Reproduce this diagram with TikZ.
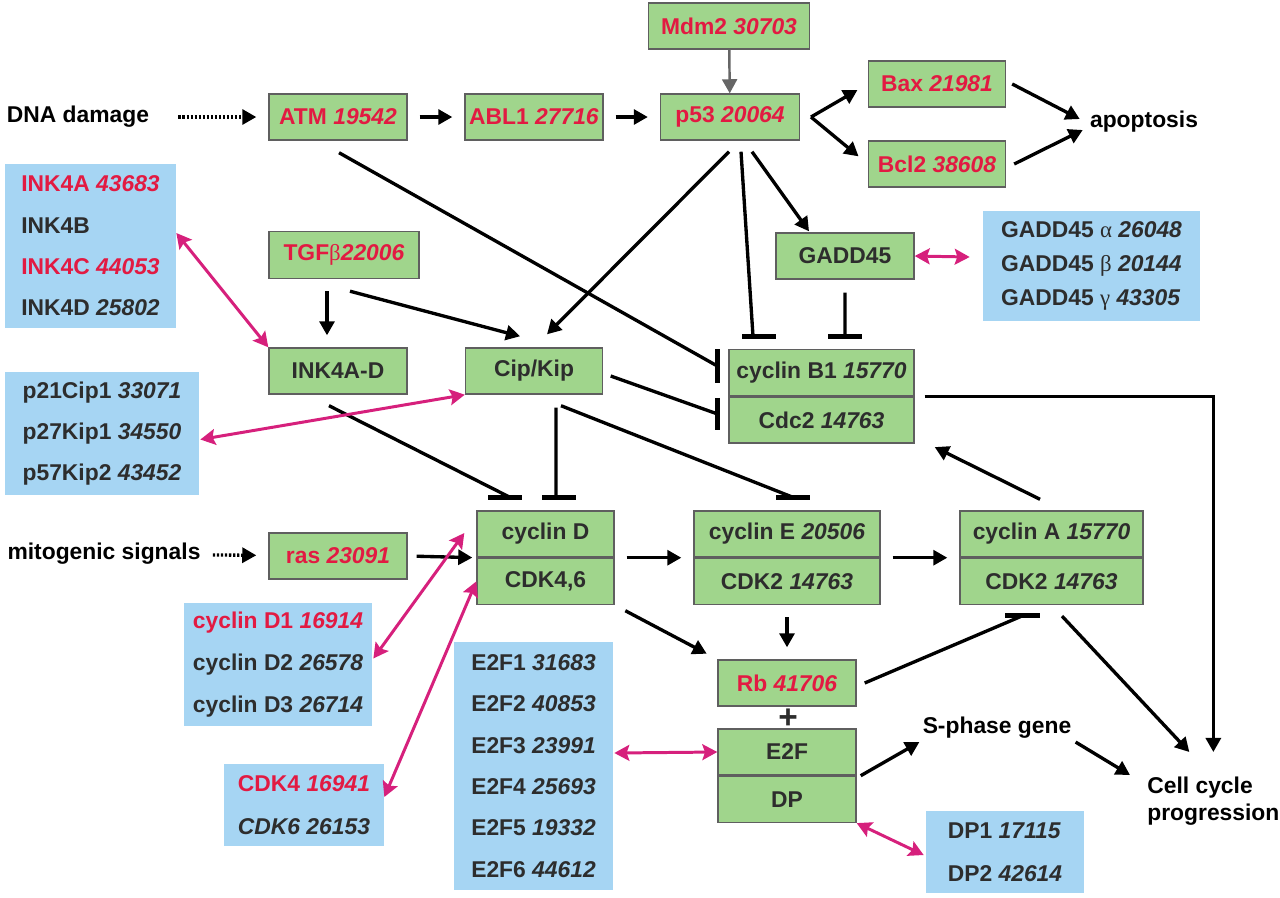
\documentclass[tikz,border=0pt]{standalone}
\usepackage{fontspec}
\setmainfont{Liberation Sans}
\newfontfamily\grk{Liberation Serif}
\usetikzlibrary{arrows.meta, positioning}

\definecolor{boxgreen}{RGB}{160,213,140}
\definecolor{boxblue}{RGB}{166,213,243}
\definecolor{boxline}{RGB}{95,95,95}
\definecolor{genered}{RGB}{226,26,66}
\definecolor{textdark}{RGB}{45,45,45}
\definecolor{linkpink}{RGB}{214,32,124}

\begin{document}
\begin{tikzpicture}[x=0.02cm, y=-0.02cm]
   \fontsize{13pt}{16pt}\selectfont\bfseries
    % --- STYLES ---
    \tikzstyle{gene} = [rectangle, draw=boxline, line width=0.8pt, fill=boxgreen, text=textdark, inner sep=0pt, minimum height=0.92cm, minimum width=2.76cm]
    \tikzstyle{keygene} = [gene, text=genered]
    \tikzstyle{family} = [rectangle, fill=boxblue, text=textdark, inner sep=0pt, align=left, font=\fontsize{13pt}{23.5pt}\selectfont]
    \tikzstyle{signal} = [text=black, inner sep=0pt]
    \tikzstyle{flow} = [-{Triangle[length=8pt, width=8.5pt]}, line width=1.9pt, shorten >=0.24cm, shorten <=0.24cm]
    \tikzstyle{exact} = [shorten >=0pt, shorten <=0pt]
    \tikzstyle{cue} = [flow, dash pattern=on 1.3pt off 1pt]
    \tikzstyle{block} = [line width=1.9pt]
    \tikzstyle{bar} = [line width=2.8pt]
    \tikzstyle{link} = [{Stealth[length=8.5pt, width=9pt, inset=1.5pt]}-{Stealth[length=8.5pt, width=9pt, inset=1.5pt]}, line width=1.7pt, color=linkpink]

    \useasboundingbox (0, 0) rectangle (1280, 897);

    % --- NODES ---
    \node (mdm2)   [keygene, minimum width=3.22cm] at (729, 26) {Mdm2 \textit{30703}};
    \node (atm)    [keygene] at (338, 117) {ATM \textit{19542}};
    \node (abl)    [keygene] at (534, 117) {ABL1 \textit{27716}};
    \node (p53)    [keygene, minimum width=2.78cm] at (730, 117) {p53 \textit{20064}};
    \node (bax)    [keygene, minimum width=2.74cm] at (937, 84) {Bax \textit{21981}};
    \node (bcl)    [keygene, minimum width=2.74cm] at (937, 164) {Bcl2 \textit{38608}};
    \node (tgf)    [keygene, minimum width=3cm, minimum height=0.94cm] at (344, 255) {TGF{\grk\mdseries β}\textit{22006}};
    \node (gadd)   [gene] at (845, 256) {GADD45};
    \node (inkad)  [gene] at (338, 371) {INK4A-D};
    \node (cipkip) [gene, minimum width=2.74cm] at (534, 371) {Cip/Kip};
    \node (ras)    [keygene] at (338, 556) {ras \textit{23091}};
    \node (rb)     [keygene] at (787, 683) {Rb \textit{41706}};

    % complexes: upper half placed, lower half stacked under it
    \node (cycb1)  [gene, minimum width=3.7cm] at (821.5, 372.5) {cyclin B1 \textit{15770}};
    \node (cdc2)   [gene, minimum width=3.7cm, below=0pt of cycb1] {Cdc2 \textit{14763}};
    \node (cycd)   [gene, minimum width=2.74cm] at (545.5, 534) {cyclin D};
    \node (cdk46)  [gene, minimum width=2.74cm, below=0pt of cycd] {CDK4,6};
    \node (cyce)   [gene, minimum width=3.72cm] at (787, 534) {cyclin E \textit{20506}};
    \node (cdk2e)  [gene, minimum width=3.72cm, below=0pt of cyce] {CDK2 \textit{14763}};
    \node (cyca)   [gene, minimum width=3.66cm] at (1051.5, 534) {cyclin A \textit{15770}};
    \node (cdk2a)  [gene, minimum width=3.66cm, below=0pt of cyca] {CDK2 \textit{14763}};
    \node (e2f)    [gene] at (787, 752) {E2F};
    \node (dp)     [gene, below=0pt of e2f] {DP};

    % gene families (blue)
    \node (ink4fam) [family, minimum width=3.42cm, minimum height=3.28cm] at (90.5, 246) {\textcolor{genered}{INK4A \textit{43683}}\\INK4B\\\textcolor{genered}{INK4C \textit{44053}}\\INK4D \textit{25802}};
    \node (cipfam)  [family, minimum width=3.88cm, minimum height=2.46cm] at (102, 433.5) {p21Cip1 \textit{33071}\\p27Kip1 \textit{34550}\\p57Kip2 \textit{43452}};
    \node (gaddfam) [family, minimum width=4.34cm, minimum height=2.2cm, font=\fontsize{13pt}{19.6pt}\selectfont] at (1091.5, 266) {GADD45 {\grk\mdseries α} \textit{26048}\\GADD45 {\grk\mdseries β} \textit{20144}\\GADD45 {\grk\mdseries γ} \textit{43305}};
    \node (cycdfam) [family, minimum width=3.76cm, minimum height=2.46cm, font=\fontsize{13pt}{23.8pt}\selectfont] at (278, 664.5) {\textcolor{genered}{cyclin D1 \textit{16914}}\\cyclin D2 \textit{26578}\\cyclin D3 \textit{26714}};
    \node (cdkfam)  [family, minimum width=3.2cm, minimum height=1.64cm, font=\fontsize{13pt}{24.4pt}\selectfont] at (304, 805) {\textcolor{genered}{CDK4 \textit{16941}}\\\textit{CDK6 26153}};
    \node (e2ffam)  [family, minimum width=3.18cm, minimum height=4.96cm] at (533.5, 766) {E2F1 \textit{31683}\\E2F2 \textit{40853}\\E2F3 \textit{23991}\\E2F4 \textit{25693}\\E2F5 \textit{19332}\\E2F6 \textit{44612}};
    \node (dpfam)   [family, minimum width=3.16cm, minimum height=1.64cm, font=\fontsize{13pt}{24.4pt}\selectfont] at (1005, 852) {DP1 \textit{17115}\\DP2 \textit{42614}};

    % plain labels
    \node (dna)    [signal] at (78, 117) {DNA damage};
    \node (mito)   [signal] at (104, 554) {mitogenic signals};
    \node (apop)   [signal] at (1144, 122) {apoptosis};
    \node (sphase) [signal] at (997, 728) {S-phase gene};
    \node (ccp)    [signal, align=left, anchor=north west, font=\fontsize{13pt}{15.3pt}\selectfont] at (1147, 777) {Cell cycle\\progression};
    \node (plus)   [signal, text=textdark, font=\fontsize{19pt}{19pt}\selectfont] at (788, 719) {+};

    \coordinate (fork) at (811, 117);

    % --- ARROWS ---
    \draw[cue, shorten <=0.58cm] (dna) -- (atm);
    \draw[cue] (mito) -- (ras);
    \draw[flow] (atm) -- (abl);
    \draw[flow] (abl) -- (p53);
    \draw[flow, exact, color=black!60, line width=1.4pt] (mdm2) -- (p53);
    \draw[flow, shorten <=0pt] (fork) -- (bax.west);
    \draw[flow, shorten <=0pt] (fork) -- (bcl.west);
    \draw[flow, exact] ([shift={(6,0)}]bax.east) -- ([shift={(-10,-3)}]apop.west);
    \draw[flow, exact] ([shift={(8,0)}]bcl.east) -- ([shift={(-7,8)}]apop.west);
    \draw[flow, exact] ([shift={(-1,11)}]p53.south) -- ([shift={(13,-13)}]cipkip.north);
    \draw[flow, exact] ([shift={(22,11)}]p53.south) -- ([shift={(-36,-1)}]gadd.north);
    \draw[flow] ([shift={(-17,0)}]tgf.south) -- ([shift={(-11,0)}]inkad.north);
    \draw[flow, exact] ([shift={(6,12)}]tgf.south) -- ([shift={(-14,-11)}]cipkip.north);
    \draw[flow, shorten <=0.18cm, shorten >=0.08cm] (ras.east) -- (cycd.south west);
    \draw[flow] (cycd.south east) -- (cyce.south west);
    \draw[flow] (cyce.south east) -- (cyca.south west);
    \draw[flow] (cdk46.south east) -- (rb.north west);
    \draw[flow] (cdk2e) -- (rb);
    \draw[flow, exact] ([shift={(-11.5,-11)}]cyca.north) -- ([shift={(20,3.5)}]cdc2.south east);
    \draw[flow, exact] ([shift={(10.5,11)}]cdk2a.south) -- ([shift={(-24,-25)}]ccp.north);
    \draw[flow, exact] ([shift={(10,0)}]cycb1.south east) -| ([shift={(0,-25)}]ccp.north);
    \draw[flow, exact] ([shift={(4,0)}]e2f.south east) -- ([shift={(-3,3)}]sphase.south west);
    \draw[flow, exact] ([shift={(4,3)}]sphase.south east) -- ([shift={(-17,-2)}]ccp.north west);

    % inhibition (line, then a bar across its end)
    \draw[block] ([shift={(1,12)}]atm.south) -- ([shift={(-11,-6.5)}]cycb1.west) ++(0,-17) edge[bar] ++(0,34);
    \draw[block] ([shift={(7.5,5)}]cipkip.east) -- ([shift={(-11,-6)}]cdc2.west) ++(0,-16) edge[bar] ++(0,32);
    \draw[block] ([shift={(11,11)}]p53.south) -- ([shift={(-68.5,-12.5)}]cycb1.north) ++(-11,0) edge[bar] ++(34,0);
    \draw[block] ([shift={(0,13)}]gadd.south) -- ([shift={(23.5,-12.5)}]cycb1.north) ++(-17,0) edge[bar] ++(34,0);
    \draw[block] ([shift={(-9,11)}]inkad.south) -- ([shift={(-35.5,-13)}]cycd.north) ++(-22,0) edge[bar] ++(34,0);
    \draw[block] ([shift={(22,13)}]cipkip.south) -- ([shift={(10.5,-13)}]cycd.north) ++(-14,0) edge[bar] ++(34,0);
    \draw[block] ([shift={(27,11)}]cipkip.south) -- ([shift={(6,-13)}]cyce.north) ++(-17,0) edge[bar] ++(34,0);
    \draw[block] ([shift={(8,0)}]rb.east) -- ([shift={(-27.5,10)}]cdk2a.south) ++(-19,0) edge[bar] ++(35,0);

    % family links
    \draw[link] ([shift={(0,-13)}]ink4fam.east) -- (inkad.north west);
    \draw[link] ([shift={(1,6)}]cipfam.east) -- (cipkip.south west);
    \draw[link] ([shift={(1,-6)}]cycdfam.east) -- ([shift={(-12,-1)}]cycd.west);
    \draw[link] ([shift={(0,-8)}]cdkfam.east) -- (cdk46.west);
    \draw[link] (gadd.east) -- ([shift={(-13,-9)}]gaddfam.west);
    \draw[link] ([shift={(1,-13)}]e2ffam.east) -- (e2f.west);
    \draw[link] (dp.south east) -- ([shift={(-2,3)}]dpfam.west);

  \end{tikzpicture}
\end{document}
